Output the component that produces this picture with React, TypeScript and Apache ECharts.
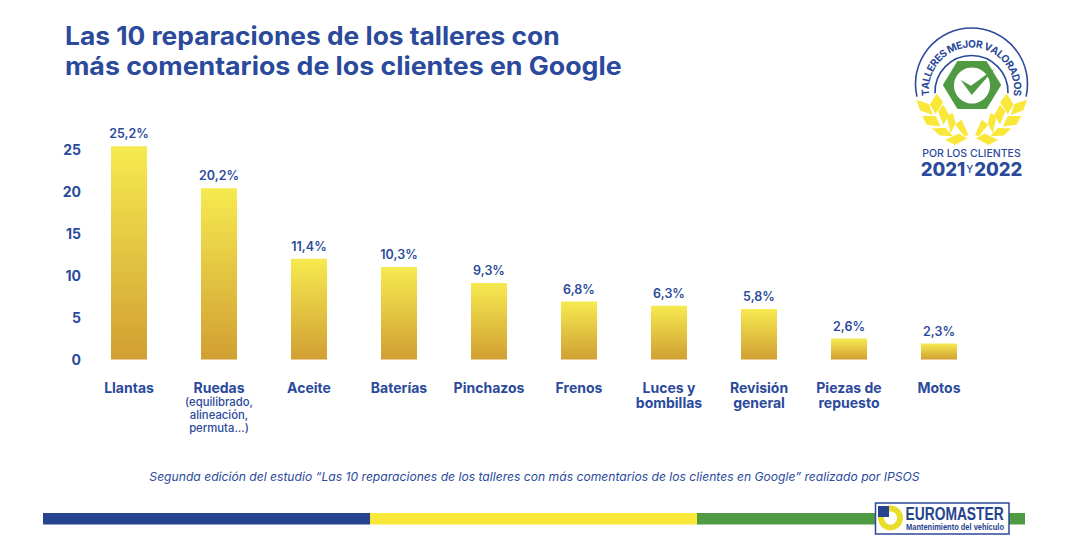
import React, { useEffect, useRef } from "react";
import * as echarts from "echarts";

const categories = ["Llantas", "Ruedas", "Aceite", "Baterías", "Pinchazos", "Frenos", "Luces y\nbombillas", "Revisión\ngeneral", "Piezas de\nrepuesto", "Motos"];
const subLabels = ["", "(equilibrado,\nalineación,\npermuta...)", "", "", "", "", "", "", "", ""];
const barHeights = [25.4, 20.4, 12.0, 11.0, 9.1, 6.9, 6.4, 6.0, 2.5, 1.9];
const valueLabels = ["25,2%", "20,2%", "11,4%", "10,3%", "9,3%", "6,8%", "6,3%", "5,8%", "2,6%", "2,3%"];
const titleLines = ["Las 10 reparaciones de los talleres con", "más comentarios de los clientes en Google"];
const caption = "Segunda edición del estudio “Las 10 reparaciones de los talleres con más comentarios de los clientes en Google” realizado por IPSOS";
const badgeArcText = "TALLERES MEJOR VALORADOS";

const BLUE = "#2B4A9B";
const YELLOW = "#F9E739";
const GREEN = "#4F9A42";
const FONT = "Inter, 'Open Sans', sans-serif";

const LEFT_LEAVES = [
  [[82, 257], [115, 268], [125, 297], [92, 285]],
  [[122, 268], [140, 240], [157, 262], [137, 293]],
  [[100, 305], [135, 305], [148, 332], [112, 328]],
  [[146, 290], [160, 272], [175, 300], [160, 325]],
  [[130, 342], [165, 340], [185, 362], [150, 360]],
  [[172, 305], [188, 297], [195, 325], [182, 350]],
  [[170, 375], [205, 358], [228, 370], [195, 388]],
  [[198, 330], [215, 318], [233, 358], [222, 360]],
];

function leafElements() {
  const out: any[] = [];
  const conv = (x: number, y: number) => [890 + x / 3, 15 + y / 3];
  LEFT_LEAVES.forEach((leaf) => {
    const mx = leaf.reduce((s, p) => s + p[0], 0) / leaf.length;
    const my = leaf.reduce((s, p) => s + p[1], 0) / leaf.length;
    const big = leaf.map(([x, y]) => [mx + (x - mx) * 1.15, my + (y - my) * 1.15]);
    out.push({ type: "polygon", shape: { points: big.map(([x, y]) => conv(x, y)) }, style: { fill: YELLOW } });
    out.push({ type: "polygon", shape: { points: big.map(([x, y]) => conv(490 - x, y)) }, style: { fill: YELLOW } });
  });
  return out;
}

function arcLetters(text: string, cx: number, cy: number, r: number, startDeg: number, endDeg: number, font: string) {
  const ctx = document.createElement("canvas").getContext("2d")!;
  ctx.font = font;
  const widths = Array.from(text).map((c) => ctx.measureText(c).width);
  const total = widths.reduce((a, b) => a + b, 0);
  const arcLen = ((endDeg - startDeg) * Math.PI * r) / 180;
  const gap = (arcLen - total) / (text.length - 1);
  let s = 0;
  return Array.from(text).map((c, i) => {
    const mid = s + widths[i] / 2;
    s += widths[i] + gap;
    const a = ((startDeg + (mid / arcLen) * (endDeg - startDeg)) * Math.PI) / 180;
    return {
      type: "text",
      x: cx + r * Math.cos(a),
      y: cy + r * Math.sin(a),
      rotation: -(a + Math.PI / 2),
      style: { text: c, font, fill: BLUE, align: "center", verticalAlign: "bottom" },
    };
  });
}

function graphics() {
  const cx = 971.5;
  const arcStyle = { stroke: BLUE, fill: "none", lineWidth: 1.6 };
  const rad = (d: number) => (d * Math.PI) / 180;
  return [
    { type: "text", x: 65, y: 36, scaleX: 1.054, style: { text: titleLines[0], font: `700 25px ${FONT}`, fill: BLUE, verticalAlign: "middle" } },
    { type: "text", x: 65, y: 66, scaleX: 1.069, style: { text: titleLines[1], font: `700 25px ${FONT}`, fill: BLUE, verticalAlign: "middle" } },

    { type: "rect", shape: { x: 43, y: 513, width: 327, height: 11.5 }, style: { fill: "#26438F" } },
    { type: "rect", shape: { x: 370, y: 513, width: 327, height: 11.5 }, style: { fill: YELLOW } },
    { type: "rect", shape: { x: 697, y: 513, width: 328, height: 11.5 }, style: { fill: GREEN } },
    { type: "rect", shape: { x: 875.5, y: 503, width: 133.5, height: 31 }, style: { fill: "#fff", stroke: BLUE, lineWidth: 1.5 } },
    { type: "ring", shape: { cx: 890.5, cy: 518, r: 12.5, r0: 6.5 }, style: { fill: "#E9DD2B" } },
    { type: "rect", shape: { x: 878, y: 506, width: 11, height: 11 }, style: { fill: "#26438F" } },
    { type: "text", x: 905.5, y: 514, scaleX: 0.79, style: { text: "EUROMASTER", font: "bold 17.5px 'Liberation Sans', sans-serif", fill: "#26438F", verticalAlign: "middle" } },
    { type: "text", x: 906, y: 527.2, scaleX: 0.85, style: { text: "Mantenimiento del vehículo", font: "bold 8.8px 'Liberation Sans', sans-serif", fill: "#26438F", verticalAlign: "middle" } },

    { type: "arc", shape: { cx, cy: 84, r: 56, startAngle: rad(167), endAngle: rad(373), clockwise: true }, style: arcStyle },
    { type: "arc", shape: { cx, cy: 92, r: 36.5, startAngle: rad(178), endAngle: rad(362), clockwise: true }, style: arcStyle },
    ...arcLetters(badgeArcText, cx, 90, 41.5, 172, 368, "700 10.2px Inter, sans-serif"),
    { type: "polygon", shape: { points: [[944, 85], [958, 62], [986, 62], [1000, 85], [986, 108], [958, 108]] }, style: { fill: GREEN, stroke: GREEN, lineWidth: 2, lineJoin: "round" } },
    { type: "circle", shape: { cx: 972, cy: 85.5, r: 18 }, style: { fill: "#fff" } },
    { type: "polygon", shape: { points: [[960.7, 80], [971, 85.7], [995, 68.3], [971.7, 95]] }, style: { fill: GREEN } },
    ...leafElements(),
    { type: "text", x: cx, y: 153, style: { text: "POR LOS CLIENTES", font: "500 10.5px Inter, sans-serif", fill: BLUE, align: "center", verticalAlign: "middle" } },
    {
      type: "text", x: cx, y: 168.8,
      style: {
        text: "{a|2021}{b|Y}{a|2022}", align: "center", verticalAlign: "middle",
        rich: {
          a: { font: "800 18.5px Inter, sans-serif", fill: BLUE, lineHeight: 16 },
          b: { font: "500 10px Inter, sans-serif", fill: BLUE, lineHeight: 16, padding: [0, 1, 0, 1] },
        },
      },
    },
  ];
}

export default function App() {
  const ref = useRef<HTMLDivElement>(null);
  useEffect(() => {
    document.body.style.margin = "0";
    document.body.style.background = "#fff";
    const chart = echarts.init(ref.current!, undefined, { renderer: "svg" });
    const gradient = new echarts.graphic.LinearGradient(0, 0, 0, 1, [
      { offset: 0, color: "#F6EA4F" },
      { offset: 1, color: "#D19F33" },
    ]);
    chart.setOption({
      animation: false,
      backgroundColor: "#fff",
      title: {
        text: caption, left: 529.5, top: 465, textAlign: "center",
        textStyle: { fontFamily: FONT, fontWeight: 400, fontStyle: "italic", fontSize: 12.13, color: BLUE },
      },
      grid: { left: 84, width: 900, top: 107.5, height: 252 },
      xAxis: {
        type: "category",
        data: categories,
        axisLine: { show: false },
        axisTick: { show: false },
        axisLabel: {
          interval: 0,
          margin: 20,
          verticalAlign: "top",
          formatter: (v: string, i: number) => {
            const main = v.split("\n").map((l) => `{a|${l}}`).join("\n");
            const sub = subLabels[i] ? "\n" + subLabels[i].split("\n").map((l) => `{b|${l}}`).join("\n") : "";
            return main + sub;
          },
          rich: {
            a: { fontFamily: FONT, fontWeight: 700, fontSize: 14, lineHeight: 15.5, color: BLUE, align: "center" },
            b: { fontFamily: FONT, fontWeight: 500, fontSize: 11.3, lineHeight: 13, color: BLUE, align: "center" },
          },
        },
      },
      yAxis: {
        type: "value",
        min: 0,
        max: 30,
        interval: 5,
        splitLine: { show: false },
        axisLine: { show: false },
        axisTick: { show: false },
        axisLabel: {
          margin: 3,
          fontFamily: FONT,
          fontWeight: 700,
          fontSize: 14,
          color: BLUE,
          formatter: (v: number) => (v > 25 ? "" : String(v)),
        },
      },
      series: [
        {
          type: "bar",
          barWidth: 36,
          data: barHeights,
          itemStyle: { color: gradient },
          label: {
            show: true,
            position: "top",
            distance: 6,
            fontFamily: FONT,
            fontWeight: 600,
            fontSize: 12.5,
            color: BLUE,
            formatter: (p: any) => valueLabels[p.dataIndex],
          },
        },
      ],
      graphic: { elements: graphics() },
    });
    return () => chart.dispose();
  }, []);
  return <div ref={ref} style={{ width: 1068, height: 559 }} />;
}
